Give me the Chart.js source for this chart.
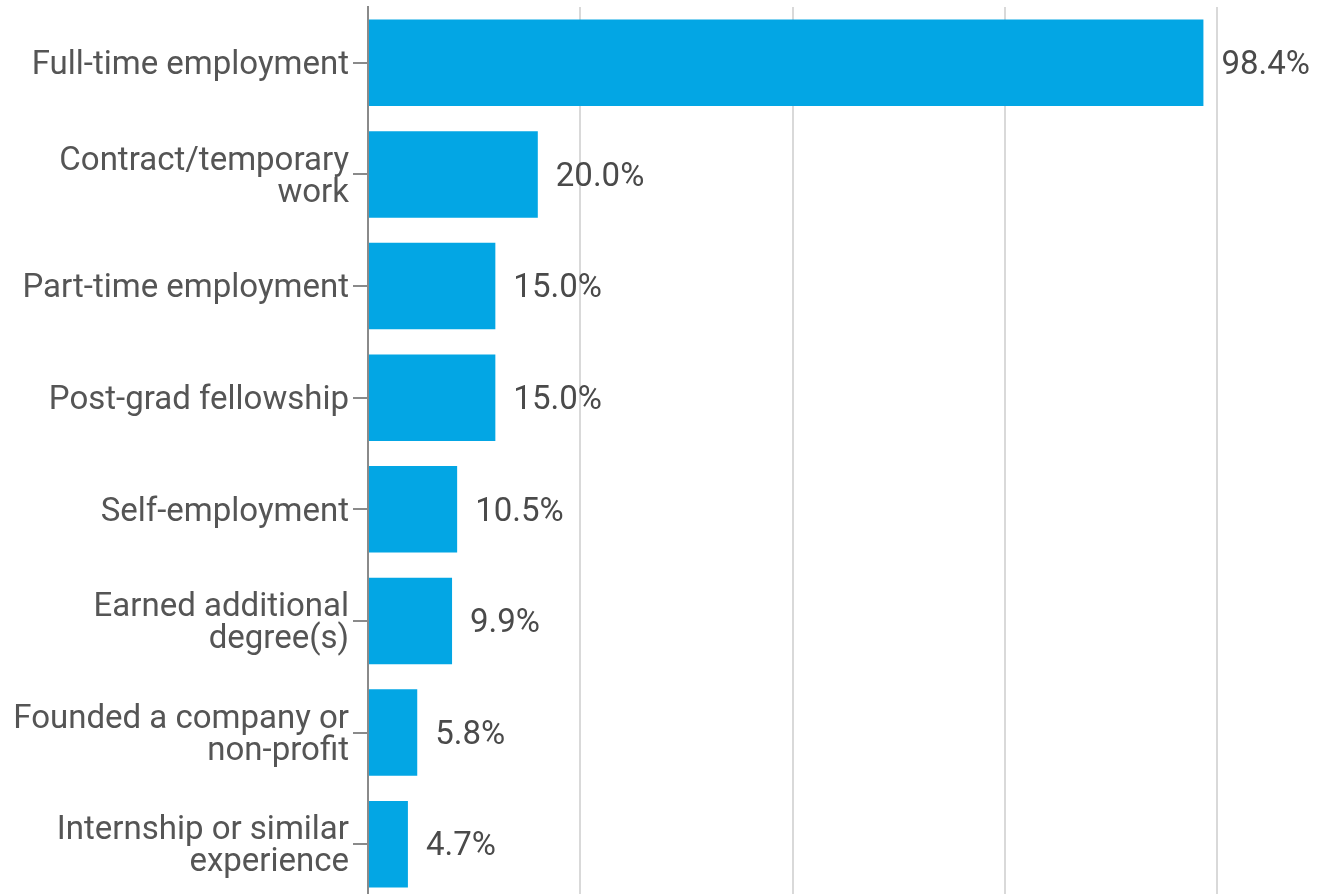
<!DOCTYPE html>
<html>
<head>
<meta charset="utf-8">
<script src="https://cdn.jsdelivr.net/npm/chart.js@4/dist/chart.umd.min.js"></script>
<style>
html,body{margin:0;padding:0;background:#fff;overflow:hidden;}
#wrap{width:1317px;height:900px;position:relative;}
</style>
</head>
<body>
<div id="wrap"><canvas id="c"></canvas></div>
<script>
const categories = [
  "Full-time employment",
  ["Contract/temporary", "work"],
  "Part-time employment",
  "Post-grad fellowship",
  "Self-employment",
  ["Earned additional", "degree(s)"],
  ["Founded a company or", "non-profit"],
  ["Internship or similar", "experience"]
];
const values = [98.4, 20.0, 15.0, 15.0, 10.5, 9.9, 5.8, 4.7];
const valueLabels = ["98.4%", "20.0%", "15.0%", "15.0%", "10.5%", "9.9%", "5.8%", "4.7%"];

const FONT = "Roboto";
const labelPlugin = {
  id: 'valueLabels',
  afterDatasetsDraw(chart) {
    const ctx = chart.ctx;
    const meta = chart.getDatasetMeta(0);
    ctx.save();
    ctx.font = "33px " + FONT;
    ctx.fillStyle = "#4a4a4a";
    ctx.textAlign = "left";
    ctx.textBaseline = "middle";
    meta.data.forEach((bar, i) => {
      ctx.fillText(valueLabels[i], bar.x + 18, bar.y + 3);
    });
    ctx.restore();
  }
};

new Chart(document.getElementById('c'), {
  type: 'bar',
  data: {
    labels: categories,
    datasets: [{
      data: values,
      backgroundColor: '#03A6E4',
      borderWidth: 0,
      barPercentage: 0.775,
      categoryPercentage: 1.0
    }]
  },
  options: {
    indexAxis: 'y',
    responsive: true,
    maintainAspectRatio: false,
    animation: false,
    layout: { padding: { top: 7, right: 100, bottom: 0, left: 0 } },
    plugins: { legend: { display: false }, tooltip: { enabled: false } },
    scales: {
      x: {
        min: 0, max: 100,
        afterFit(scale) { scale.height = 0; scale.paddingLeft = 0; scale.paddingRight = 0; },
        ticks: { display: false, stepSize: 25 },
        grid: { color: '#d9d9d9', lineWidth: 2, drawTicks: false },
        border: { display: false }
      },
      y: {
        afterFit(scale) { scale.width = 368; scale.paddingTop = 0; scale.paddingBottom = 0; },
        ticks: {
          color: '#555555',
          font: { family: FONT, size: 33, lineHeight: 0.97 },
          padding: 4,
          labelOffset: 3,
          autoSkip: false
        },
        grid: { offset: false, drawOnChartArea: false, tickLength: 15, color: '#8a8a8a', lineWidth: 2 },
        border: { color: '#8a8a8a', width: 2 }
      }
    }
  },
  plugins: [labelPlugin]
});
</script>
</body>
</html>
